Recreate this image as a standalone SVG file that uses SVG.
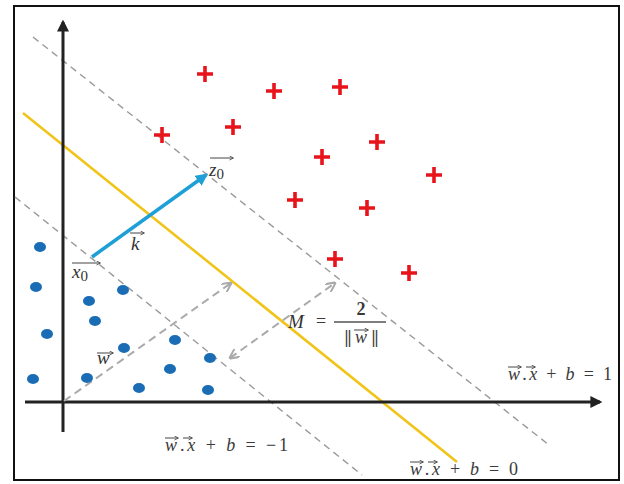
<svg xmlns="http://www.w3.org/2000/svg" width="624" height="484" viewBox="0 0 624 484">
<defs>
<style>
.axis{stroke:#222;stroke-width:3;fill:none}
.margin{stroke:#9a9a9a;stroke-width:1.4;stroke-dasharray:7 5;fill:none}
.hyper{stroke:#f0c419;stroke-width:2.6;fill:none}
.darr{stroke:#aaaaaa;stroke-width:2;stroke-dasharray:8 5;fill:none}
.plus{stroke:#e8141c;stroke-width:3.6;fill:none}
.dot{fill:#1a6db5}
.lbl{font-family:"Liberation Serif","DejaVu Serif",serif;font-style:italic;font-size:19px;fill:#333}
.eq{font-family:"Liberation Serif","DejaVu Serif",serif;font-size:18px;fill:#3a3a3a}
.acc{stroke:#444;stroke-width:1;fill:none;marker-end:url(#acc)}
</style>
<marker id="axh" viewBox="0 0 10 10" refX="8" refY="5" markerWidth="4" markerHeight="4" orient="auto"><path d="M0,0L10,5L0,10z" fill="#222"/></marker>
<marker id="bh" viewBox="0 0 10 10" refX="8" refY="5" markerWidth="3.5" markerHeight="3.5" orient="auto"><path d="M0,0L10,5L0,10z" fill="#1e9fd6"/></marker>
<marker id="gh" viewBox="0 0 10 10" refX="9" refY="5" markerWidth="5" markerHeight="5" orient="auto-start-reverse"><path d="M0,0L10,5L0,10" fill="none" stroke="#aaaaaa" stroke-width="2"/></marker>
<marker id="acc" viewBox="0 0 10 10" refX="9" refY="5" markerWidth="5" markerHeight="5" markerUnits="userSpaceOnUse" orient="auto"><path d="M2,1L10,5L2,9" fill="none" stroke="#444" stroke-width="1.6"/></marker>
</defs>
<rect x="14" y="6" width="605" height="474" fill="#fff" stroke="#111" stroke-width="2"/>
<g id="connectors">
<line class="margin" x1="33" y1="37" x2="549" y2="445"/>
<line class="margin" x1="15" y1="197" x2="362" y2="475"/>
<line class="hyper" x1="23" y1="113" x2="457" y2="462"/>
<line class="axis" x1="63" y1="432" x2="63" y2="22" marker-end="url(#axh)"/>
<line class="axis" x1="25" y1="402" x2="600" y2="402" marker-end="url(#axh)"/>
<line class="darr" x1="64" y1="401" x2="231" y2="283" marker-end="url(#gh)"/>
<line class="darr" x1="230" y1="358" x2="335" y2="283" marker-start="url(#gh)" marker-end="url(#gh)"/>
<line x1="92" y1="257" x2="206" y2="175" stroke="#1e9fd6" stroke-width="3.5" marker-end="url(#bh)"/>
</g>
<g id="plus-class">
<path class="plus" d="M197,74h16M205,66v16"/>
<path class="plus" d="M266,91h16M274,83v16"/>
<path class="plus" d="M332,87h16M340,79v16"/>
<path class="plus" d="M154,135h16M162,127v16"/>
<path class="plus" d="M225,127h16M233,119v16"/>
<path class="plus" d="M314,157h16M322,149v16"/>
<path class="plus" d="M369,142h16M377,134v16"/>
<path class="plus" d="M426,175h16M434,167v16"/>
<path class="plus" d="M287,200h16M295,192v16"/>
<path class="plus" d="M359,208h16M367,200v16"/>
<path class="plus" d="M327,259h16M335,251v16"/>
<path class="plus" d="M401,273h16M409,265v16"/>
</g>
<g id="dot-class">
<ellipse class="dot" cx="40" cy="247" rx="6" ry="5"/>
<ellipse class="dot" cx="36" cy="287" rx="6" ry="5"/>
<ellipse class="dot" cx="89" cy="301" rx="6" ry="5"/>
<ellipse class="dot" cx="123" cy="290" rx="6" ry="5"/>
<ellipse class="dot" cx="95" cy="321" rx="6" ry="5"/>
<ellipse class="dot" cx="47" cy="334" rx="6" ry="5"/>
<ellipse class="dot" cx="124" cy="348" rx="6" ry="5"/>
<ellipse class="dot" cx="175" cy="340" rx="6" ry="5"/>
<ellipse class="dot" cx="210" cy="358" rx="6" ry="5"/>
<ellipse class="dot" cx="33" cy="379" rx="6" ry="5"/>
<ellipse class="dot" cx="87" cy="378" rx="6" ry="5"/>
<ellipse class="dot" cx="170" cy="369" rx="6" ry="5"/>
<ellipse class="dot" cx="139" cy="388" rx="6" ry="5"/>
<ellipse class="dot" cx="208" cy="390" rx="6" ry="5"/>
</g>
<g id="label-z0">
<text class="lbl" x="209" y="176">z<tspan font-style="normal" font-size="15" dy="3">0</tspan></text>
<line class="acc" x1="210" y1="158" x2="233" y2="158"/>
</g>
<g id="label-k">
<text class="lbl" x="131" y="250">k</text>
<line class="acc" x1="130" y1="233" x2="144" y2="233"/>
</g>
<g id="label-x0">
<text class="lbl" x="72" y="278">x<tspan font-style="normal" font-size="15" dy="3">0</tspan></text>
<line class="acc" x1="72" y1="263" x2="100" y2="263"/>
</g>
<g id="label-w">
<text class="lbl" x="97" y="364">w</text>
<line class="acc" x1="97" y1="353" x2="113" y2="353"/>
</g>
<g id="label-margin">
<text class="lbl" x="288" y="328">M</text>
<text class="eq" x="316" y="327">=</text>
<text class="eq" x="361" y="315" text-anchor="middle" font-weight="bold">2</text>
<line x1="334" y1="322" x2="386" y2="322" stroke="#555" stroke-width="1.5"/>
<text class="eq" x="361" y="343" text-anchor="middle" font-weight="bold"><tspan letter-spacing="-1">||</tspan> <tspan font-style="italic" font-weight="normal">w</tspan> <tspan letter-spacing="-1">||</tspan></text>
<line class="acc" x1="354" y1="330" x2="368" y2="330"/>
</g>
<g id="eq-plus1">
<text class="eq" x="508" y="380" textLength="104" lengthAdjust="spacing"><tspan font-style="italic">w</tspan>.<tspan font-style="italic">x</tspan> + <tspan font-style="italic">b</tspan> = 1</text>
<line class="acc" x1="508" y1="367" x2="521" y2="367"/>
<line class="acc" x1="526" y1="367" x2="535" y2="367"/>
</g>
<g id="eq-minus1">
<text class="eq" x="165" y="451" textLength="123" lengthAdjust="spacing"><tspan font-style="italic">w</tspan>.<tspan font-style="italic">x</tspan> + <tspan font-style="italic">b</tspan> = −1</text>
<line class="acc" x1="165" y1="438" x2="178" y2="438"/>
<line class="acc" x1="183" y1="438" x2="192" y2="438"/>
</g>
<g id="eq-zero">
<text class="eq" x="410" y="475" textLength="108" lengthAdjust="spacing"><tspan font-style="italic">w</tspan>.<tspan font-style="italic">x</tspan> + <tspan font-style="italic">b</tspan> = 0</text>
<line class="acc" x1="410" y1="462" x2="423" y2="462"/>
<line class="acc" x1="428" y1="462" x2="437" y2="462"/>
</g>
</svg>
